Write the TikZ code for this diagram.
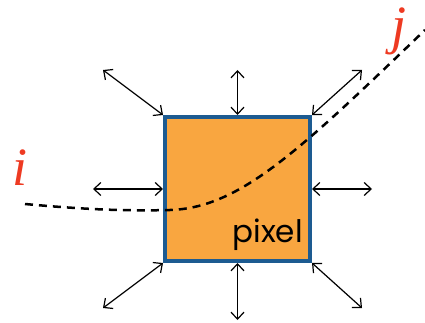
\documentclass[tikz,border=0pt]{standalone}
\usepackage{fontspec}
\newfontfamily\pixfont{Poppins}
\newfontfamily\lblfont{Liberation Serif}
\usetikzlibrary{arrows.meta}
\definecolor{PixOrange}{HTML}{F9A640}
\definecolor{PixBlue}{HTML}{1D5B91}
\definecolor{LblRed}{HTML}{EE3A22}

\begin{document}
\begin{tikzpicture}[x=1pt, y=-1pt, >={Straight Barb[length=7pt,width=13pt]},
                pixbox/.style={rectangle, draw=PixBlue, fill=PixOrange, line width=4pt, minimum width=145pt, minimum height=144pt, inner sep=0pt},
                nbr/.style={<->, line width=1.2pt},
                trail/.style={line width=2.5pt, dash pattern=on 8pt off 6pt},
                lbl/.style={text=LblRed, font=\lblfont\itshape\fontsize{54}{54}\selectfont, inner sep=0pt, anchor=base}]
                \useasboundingbox (0,0) rectangle (425,323);
                \node[pixbox] (pix) at (237.5,189) {};
                \node[anchor=base east, inner sep=0pt, font=\pixfont\fontsize{31}{31}\selectfont] (plab) at (303,242) {pixel};
                \node[lbl] (li) at (20,185) {i};
                \node[lbl] (lj) at (399,44) {j};

                \coordinate (ntl) at (103,70);
                \coordinate (nt) at (237.5,70);
                \coordinate (ntr) at (362,70);
                \coordinate (nl) at (93,189);
                \coordinate (nr) at (372,189);
                \coordinate (nbl) at (103,308);
                \coordinate (nb) at (237.5,320);
                \coordinate (nbr) at (362,308);

                \draw[nbr] (ntl) -- (pix.north west);
                \draw[nbr] (nt) -- (pix.north);
                \draw[nbr] (ntr) -- (pix.north east);
                \draw[nbr] (nl) -- (pix.west);
                \draw[nbr] (nr) -- (pix.east);
                \draw[nbr] (nbl) -- (pix.south west);
                \draw[nbr] (nb) -- (pix.south);
                \draw[nbr] (nbr) -- (pix.south east);

                \coordinate (ci) at (25,204);
                \coordinate (cm) at (170,210);
                \coordinate (cj) at (425,30);
                \draw[trail] (ci) .. controls (90,210) and (130,211) .. (cm) .. controls (240,208) and (300,150) .. (cj);
            \end{tikzpicture}
\end{document}
